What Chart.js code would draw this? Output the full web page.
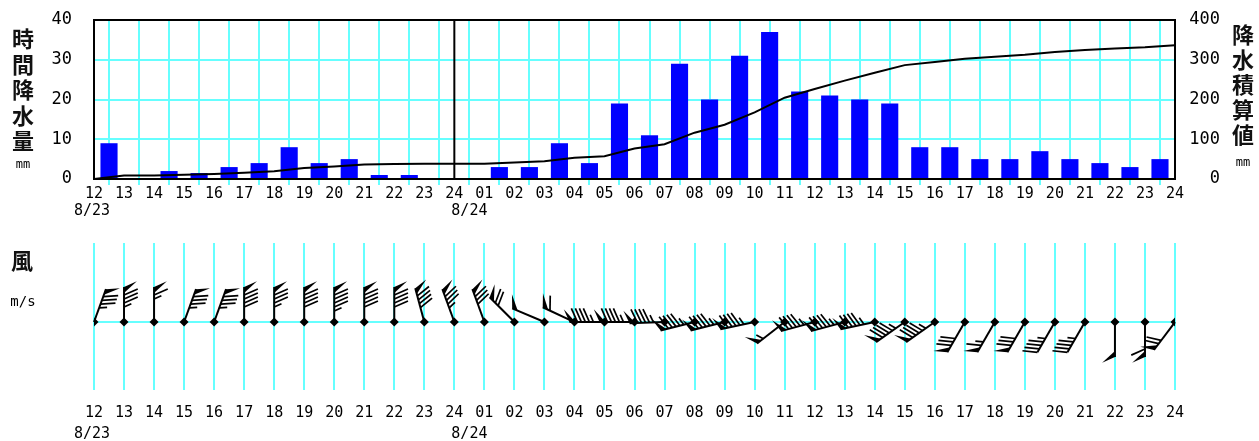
<!DOCTYPE html>
<html><head><meta charset="utf-8">
<script src="https://cdn.jsdelivr.net/npm/chart.js@4"></script>
<style>
html,body{margin:0;padding:0;background:#fff;}
#wrap{position:relative;width:1259px;height:441px;background:#fff;}
#c1{position:absolute;left:0;top:0;}
#c2{position:absolute;left:0;top:230px;}
</style></head><body>
<div id="wrap"><canvas id="c1" width="1259" height="230"></canvas><canvas id="c2" width="1259" height="211"></canvas></div>
<script>
// ---- data ----
const hourLabels = ['12','13','14','15','16','17','18','19','20','21','22','23','24',
  '01','02','03','04','05','06','07','08','09','10','11','12','13','14','15','16','17','18','19','20','21','22','23','24'];
const dateTickIndex = [0, 12];
const dateTickText = ['8/23', '8/24'];
const rainTicks = [0, 10, 20, 30, 40];
const cumTicks = [0, 100, 200, 300, 400];
// hourly precipitation (mm), hour ending at hourLabels[i+1]
const rainHourly = [9, 0, 2, 1.5, 3, 4, 8, 4, 5, 1, 1, 0,
  0, 3, 3, 9, 4, 19, 11, 29, 20, 31, 37, 22, 21, 20, 19, 8, 8, 5, 5, 7, 5, 4, 3, 5];
// cumulative precipitation (mm) at each hour tick
const rainCumulative = [0, 9, 9, 11, 12.5, 15.5, 19.5, 27.5, 31.5, 36.5, 37.5, 38.5, 38.5,
  38.5, 41.5, 44.5, 53.5, 57.5, 76.5, 87.5, 116.5, 136.5, 167.5, 204.5, 226.5, 247.5, 267.5,
  286.5, 294.5, 302.5, 307.5, 312.5, 319.5, 324.5, 328.5, 331.5, 336.5];
// wind direction (deg, blowing from) and speed (m/s) at each hour tick
const windDir = [20, 0, 0, 20, 20, 0, 0, 0, 0, 0, 0, 345, 340,
  340, 315, 293, 295, 270, 270, 268, 256, 256, 258, 232, 255, 255, 258, 235, 235,
  210, 210, 210, 210, 210, 180, 180, 217];
const windSpeed = [17, 17, 13, 17, 17, 18, 17, 18, 19, 18, 18, 18, 17,
  16, 14, 10, 12, 19, 19, 19, 19, 19, 19, 11, 19, 19, 19, 19, 19,
  16, 13, 16, 9, 9, 10, 12, 14];

// ---- style ----
const CYAN = '#66ffff';
const MONO = '"DejaVu Sans Mono", monospace';
const CJK = '"Noto Sans CJK JP", sans-serif';
Chart.defaults.font.family = MONO;
Chart.defaults.color = '#000';

function xScale(height, tickLen, pad) {
  return {
    type: 'linear', min: 0, max: hourLabels.length - 1, offset: false,
    afterBuildTicks: s => { s.ticks = hourLabels.map((_, i) => ({ value: i })); },
    ticks: { autoSkip: false, maxRotation: 0, minRotation: 0, padding: pad, color: '#000',
      font: { size: 15 }, callback: (v, i) => hourLabels[i] },
    grid: { color: CYAN, lineWidth: 2, tickLength: tickLen, tickColor: CYAN, drawTicks: tickLen > 0 },
    border: { display: false },
    afterFit: s => { s.height = height; }
  };
}

function drawDates(chart, y) {
  const ctx = chart.ctx, xs = chart.scales.x;
  ctx.save();
  ctx.font = '15px ' + MONO;
  ctx.fillStyle = '#000';
  ctx.textBaseline = 'middle';
  dateTickIndex.forEach((idx, k) => {
    const px = xs.getPixelForValue(idx);
    if (k === 0) { ctx.textAlign = 'center'; ctx.fillText(dateTickText[k], px - 2, y); }
    else { ctx.textAlign = 'left'; ctx.fillText(dateTickText[k], px - 3, y); }
  });
  ctx.restore();
}

function vertText(ctx, text, x, y0, step) {
  ctx.save();
  ctx.font = 'bold 22px ' + CJK;
  ctx.fillStyle = '#111';
  ctx.textAlign = 'center';
  ctx.textBaseline = 'middle';
  [...text].forEach((c, i) => ctx.fillText(c, x, y0 + i * step));
  ctx.restore();
}

const topPlugin = {
  id: 'topDecor',
  beforeDatasetsDraw(chart) {
    const { ctx, chartArea: a } = chart;
    ctx.save();
    ctx.strokeStyle = '#000';
    ctx.lineWidth = 2;
    ctx.strokeRect(a.left, a.top, a.right - a.left, a.bottom - a.top);
    const px = chart.scales.x.getPixelForValue(dateTickIndex[1]);
    ctx.beginPath(); ctx.moveTo(px, a.top); ctx.lineTo(px, a.bottom); ctx.stroke();
    ctx.restore();
  },
  afterDraw(chart) {
    const ctx = chart.ctx;
    vertText(ctx, '時間降水量', 23, 39, 25.5);
    vertText(ctx, '降水積算値', 1243, 35, 25);
    ctx.save();
    ctx.font = '12px ' + MONO; ctx.fillStyle = '#000';
    ctx.textAlign = 'center'; ctx.textBaseline = 'middle';
    ctx.fillText('mm', 23, 165);
    ctx.fillText('mm', 1243, 163);
    ctx.restore();
    drawDates(chart, 211);
  }
};

new Chart(document.getElementById('c1'), {
  type: 'bar',
  data: {
    datasets: [
      { type: 'line', order: 0, yAxisID: 'y1',
        data: rainCumulative.map((v, i) => ({ x: i, y: v })),
        borderColor: '#000', borderWidth: 2, pointRadius: 0, tension: 0, fill: false },
      { type: 'bar', order: 1, yAxisID: 'y',
        data: rainHourly.map((v, i) => ({ x: i + 0.5, y: v })),
        backgroundColor: '#0000ff', borderWidth: 0,
        categoryPercentage: 1, barPercentage: 0.57 }
    ]
  },
  options: {
    responsive: false, animation: false, devicePixelRatio: 1,
    layout: { padding: { left: 0, right: 39, top: 20, bottom: 0 } },
    plugins: { legend: { display: false }, tooltip: { enabled: false } },
    scales: {
      x: xScale(51, 6, 0),
      y: { position: 'left', min: 0, max: 40,
        afterBuildTicks: s => { s.ticks = rainTicks.map(v => ({ value: v })); },
        ticks: { padding: 0, font: { size: 17 }, color: '#000' },
        grid: { color: CYAN, lineWidth: 2, drawTicks: true, tickLength: 22, tickColor: 'rgba(0,0,0,0)' },
        border: { display: false },
        afterFit: s => { s.width = 94; } },
      y1: { position: 'right', min: 0, max: 400,
        afterBuildTicks: s => { s.ticks = cumTicks.map(v => ({ value: v })); },
        ticks: { crossAlign: 'far', padding: 0, font: { size: 17 }, color: '#000' },
        grid: { display: false, drawTicks: false },
        border: { display: false },
        afterFit: s => { s.width = 45; } }
    }
  },
  plugins: [topPlugin]
});

function drawBarb(ctx, x0, y0, dirDeg, speed) {
  const L = 35;
  const r = dirDeg * Math.PI / 180;
  const ux = Math.sin(r), uy = -Math.cos(r);
  const px = -uy, py = ux;
  const ang = 66 * Math.PI / 180;
  const bx = Math.cos(ang) * ux + Math.sin(ang) * px;
  const by = Math.cos(ang) * uy + Math.sin(ang) * py;
  const pt = d => [x0 + ux * d, y0 + uy * d];
  ctx.save();
  ctx.strokeStyle = '#000'; ctx.fillStyle = '#000';
  ctx.lineWidth = 2; ctx.lineCap = 'butt';
  ctx.beginPath(); ctx.moveTo(x0, y0); const t = pt(L); ctx.lineTo(t[0], t[1]); ctx.stroke();
  ctx.lineWidth = 1.7;
  let s = speed, pos = L;
  const nP = Math.floor(s / 10); s -= nP * 10;
  const nL = Math.floor(s / 2); s -= nL * 2;
  const nS = s >= 1 ? 1 : 0;
  for (let i = 0; i < nP; i++) {
    const A = pt(pos), B = pt(pos - 6);
    ctx.beginPath(); ctx.moveTo(A[0], A[1]);
    ctx.lineTo(A[0] + bx * 14, A[1] + by * 14);
    ctx.lineTo(B[0], B[1]); ctx.closePath(); ctx.fill();
    pos -= 8;
  }
  for (let i = 0; i < nL; i++) {
    const A = pt(pos);
    ctx.beginPath(); ctx.moveTo(A[0], A[1]); ctx.lineTo(A[0] + bx * 15, A[1] + by * 15); ctx.stroke();
    pos -= 4;
  }
  if (nS) {
    const A = pt(pos);
    ctx.beginPath(); ctx.moveTo(A[0], A[1]); ctx.lineTo(A[0] + bx * 8, A[1] + by * 8); ctx.stroke();
  }
  ctx.restore();
}

const windPlugin = {
  id: 'wind',
  afterDatasetsDraw(chart) {
    const ctx = chart.ctx, xs = chart.scales.x, ys = chart.scales.y;
    windDir.forEach((d, i) => {
      drawBarb(ctx, xs.getPixelForValue(i), ys.getPixelForValue(0), d, windSpeed[i]);
    });
  },
  afterDraw(chart) {
    const ctx = chart.ctx;
    ctx.save();
    ctx.font = 'bold 22px ' + CJK; ctx.fillStyle = '#111';
    ctx.textAlign = 'center'; ctx.textBaseline = 'middle';
    ctx.fillText('風', 22, 31);
    ctx.font = '14px ' + MONO; ctx.fillStyle = '#000';
    ctx.fillText('m/s', 23, 72);
    ctx.restore();
    drawDates(chart, 204);
  }
};

new Chart(document.getElementById('c2'), {
  type: 'scatter',
  data: { datasets: [{
    data: windDir.map((_, i) => ({ x: i, y: 0 })),
    pointStyle: 'rectRot', pointRadius: 4.5, backgroundColor: '#000', borderColor: '#000', borderWidth: 0
  }] },
  options: {
    responsive: false, animation: false, devicePixelRatio: 1,
    layout: { padding: { left: 0, right: 84, top: 13, bottom: 0 } },
    plugins: { legend: { display: false }, tooltip: { enabled: false } },
    scales: {
      x: xScale(51, 0, 14),
      y: { min: -0.86, max: 1,
        afterBuildTicks: s => { s.ticks = [{ value: 0 }]; },
        ticks: { display: false },
        grid: { color: CYAN, lineWidth: 2, drawTicks: false },
        border: { display: false },
        afterFit: s => { s.width = 94; } }
    }
  },
  plugins: [windPlugin]
});
</script>
</body></html>
